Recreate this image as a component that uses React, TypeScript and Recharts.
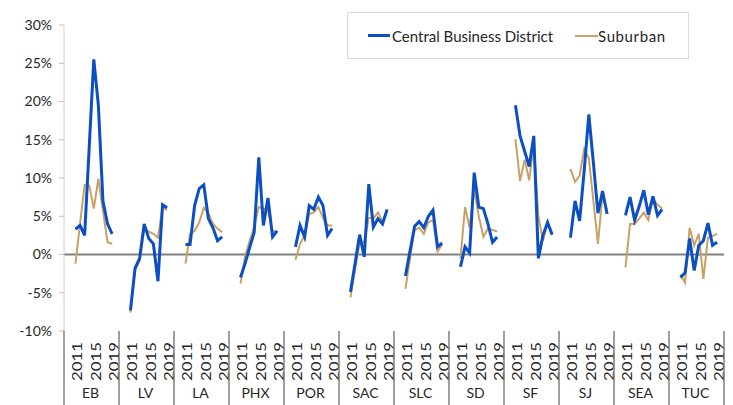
import React from "react";
import { LineChart, Line, XAxis, YAxis, ReferenceLine, Legend } from "recharts";

const metros = ["EB", "LV", "LA", "PHX", "POR", "SAC", "SLC", "SD", "SF", "SJ", "SEA", "TUC"];
// each metro block on the axis holds 12 slots: two empty, 2011-2019, one empty
const slotYears = [null, null, 2011, 2012, 2013, 2014, 2015, 2016, 2017, 2018, 2019, null];
const labelledYears = [2011, 2015, 2019];
const yTicks = [-10, -5, 0, 5, 10, 15, 20, 25, 30];

// annual change, %, 2011..2019
const cbdGrowth = [
  [3.3, 3.8, 2.5, 14, 25.5, 19.5, 7, 4, 2.7], // EB
  [-7.3, -1.8, -0.5, 4, 2.1, 1.4, -3.5, 6.5, 6.1], // LV
  [1.3, 1.3, 6.4, 8.6, 9.1, 4.7, 3.5, 1.8, 2.3], // LA
  [-3, -1.2, 0.9, 2.9, 12.7, 3.8, 7.4, 2.3, 3.1], // PHX
  [1.0, 3.8, 2.3, 6.4, 5.9, 7.5, 6.4, 2.5, 3.4], // POR
  [-4.9, -1.2, 2.6, -0.3, 9.2, 3.6, 4.7, 4.0, 5.9], // SAC
  [-2.8, 0.5, 3.7, 4.3, 3.5, 5.0, 5.8, 1.0, 1.5], // SLC
  [-1.6, 1.0, 0.2, 10.7, 6.2, 6.0, 4.0, 1.6, 2.3], // SD
  [19.5, 15.5, 13.5, 11.5, 15.5, -0.5, 2.5, 4.2, 2.6], // SF
  [2.2, 7.0, 4.4, 11, 18.3, 12, 5.4, 8.3, 5.3], // SJ
  [5.1, 7.5, 4.5, 6.3, 8.4, 5.2, 7.6, 5.1, 5.9], // SEA
  [-3.0, -2.4, 2.1, -2.1, 1.2, 1.8, 4.1, 1.2, 1.6], // TUC
];

const suburbanGrowth = [
  [-1.2, 4, 9.1, 9, 6, 9.9, 5.7, 1.6, 1.4], // EB
  [-7.6, -2, -0.8, 3.3, 3, 2.7, 2.2, 6.2, 5.8], // LV
  [-1.2, 2.7, 3.1, 4.2, 6.1, 5.4, 4, 3.4, 2.9], // LA
  [-3.8, -0.3, 1.8, 3.6, 6.2, 6.0, 5.7, 3.1, 2.9], // PHX
  [-0.7, 1.4, 2.5, 5.3, 5.5, 6.2, 4.8, 3.8, 3.8], // POR
  [-5.6, -2, 1.5, 1.6, 4.8, 4.7, 5.5, 4.3, 5.6], // SAC
  [-4.5, -0.5, 3.2, 3.5, 2.7, 4.2, 4.5, 0.4, 1.3], // SLC
  [-0.5, 6.2, 3.5, 8.5, 5, 2.3, 3.4, 3.2, 3.0], // SD
  [15.1, 9.6, 12.4, 9.7, 14.6, 5, 1.8, 4.1, 2.6], // SF
  [11.2, 9.5, 10.3, 13.8, 12.6, 7, 1.4, 7.8, 5.5], // SJ
  [-1.7, 4.0, 4.0, 4.7, 5.5, 4.5, 7.3, 6.5, 6.0], // SEA
  [-2.6, -3.7, 3.5, 1.2, 2.7, -3.2, 2.2, 2.4, 2.7], // TUC
];

const BLUE = "#0c4fc3";
const TAN = "#c9a167";
const TEXT = "#262626";
const FONT = "Lato, 'Open Sans', sans-serif";

const WIDTH = 733;
const HEIGHT = 405;
const PLOT_LEFT = 64;
const PLOT_RIGHT = 724;
const PLOT_TOP = 25;
const AXIS_Y = 331;
const SLOT = (PLOT_RIGHT - PLOT_LEFT) / (metros.length * slotYears.length);

const data = metros.flatMap((metro, g) =>
  slotYears.map((year, s) => {
    const k = year === null ? -1 : year - 2011;
    return {
      slot: g * slotYears.length + s,
      metro,
      year,
      cbd: k < 0 ? null : cbdGrowth[g][k],
      suburban: k < 0 ? null : suburbanGrowth[g][k],
    };
  })
);

function CategoryTick(props: any) {
  const { x, payload } = props;
  const v = Number(payload.value);
  const g = Math.floor(v / slotYears.length);
  const s = v % slotYears.length;
  const year = slotYears[s];
  const parts: React.ReactNode[] = [];

  if (year !== null && labelledYears.includes(year)) {
    parts.push(
      <text
        key="y"
        transform={`translate(${x + 2}, ${AXIS_Y + 11}) rotate(-90)`}
        textAnchor="end"
        dominantBaseline="central"
        fontSize={13}
        textLength={39}
        lengthAdjust="spacingAndGlyphs"
        fill={TEXT}
        fontFamily={FONT}
      >
        {year}
      </text>
    );
  }
  if (s === 0) {
    parts.push(
      <line key="l" x1={x - SLOT / 2} x2={x - SLOT / 2} y1={AXIS_Y} y2={HEIGHT} stroke="#7f7f7f" strokeWidth={1.5} />
    );
  }
  if (v === metros.length * slotYears.length - 1) {
    parts.push(
      <line key="r" x1={x + SLOT / 2} x2={x + SLOT / 2} y1={AXIS_Y} y2={HEIGHT} stroke="#7f7f7f" strokeWidth={1.5} />
    );
  }
  if (s === 6) {
    parts.push(
      <text key="m" x={x - SLOT / 2 - 1} y={AXIS_Y + 67} textAnchor="middle" fontSize={14} fill={TEXT} fontFamily={FONT}>
        {metros[g]}
      </text>
    );
  }
  return <g>{parts}</g>;
}

function LegendBox() {
  return (
    <div
      style={{
        width: 342,
        height: 47,
        boxSizing: "border-box",
        border: "1px solid #d9d9d9",
        background: "#fff",
        display: "flex",
        alignItems: "center",
        fontFamily: FONT,
        fontSize: 15,
        color: TEXT,
      }}
    >
      <span style={{ display: "inline-block", width: 22, height: 3, background: BLUE, marginLeft: 20 }} />
      <span style={{ marginLeft: 2 }}>Central Business District</span>
      <span style={{ display: "inline-block", width: 23, height: 2, background: TAN, marginLeft: 22 }} />
      <span style={{ letterSpacing: 0.6 }}>Suburban</span>
    </div>
  );
}

export default function App() {
  return (
    <div style={{ position: "absolute", left: 0, top: 0, width: WIDTH, height: HEIGHT, background: "#fff", fontFamily: FONT }}>
      <LineChart
        width={WIDTH}
        height={HEIGHT}
        data={data}
        margin={{ top: PLOT_TOP, right: WIDTH - PLOT_RIGHT, bottom: 0, left: 0 }}
      >
        <XAxis
          dataKey="slot"
          type="category"
          interval={0}
          height={HEIGHT - AXIS_Y}
          padding={{ left: SLOT / 2, right: SLOT / 2 }}
          axisLine={false}
          tickLine={false}
          tickSize={0}
          tick={<CategoryTick />}
        />
        <YAxis
          width={PLOT_LEFT}
          domain={[-10, 30]}
          ticks={yTicks}
          allowDataOverflow
          tickFormatter={(v: number) => `${v}%`}
          axisLine={{ stroke: "#d0d0d0" }}
          tickLine={{ stroke: "#bfbfbf" }}
          tickSize={5}
          tickMargin={7}
          tick={{ fontSize: 14, fill: TEXT, fontFamily: FONT }}
        />
        <ReferenceLine y={0} stroke="#808080" strokeWidth={2} />
        <Legend
          verticalAlign="middle"
          align="center"
          layout="horizontal"
          wrapperStyle={{ left: 347, top: 12, width: 342 }}
          content={() => <LegendBox />}
        />
        <Line
          type="linear"
          dataKey="suburban"
          name="Suburban"
          stroke={TAN}
          strokeWidth={2}
          dot={false}
          isAnimationActive={false}
        />
        <Line
          type="linear"
          dataKey="cbd"
          name="Central Business District"
          stroke={BLUE}
          strokeWidth={3}
          dot={false}
          isAnimationActive={false}
        />
      </LineChart>
    </div>
  );
}
